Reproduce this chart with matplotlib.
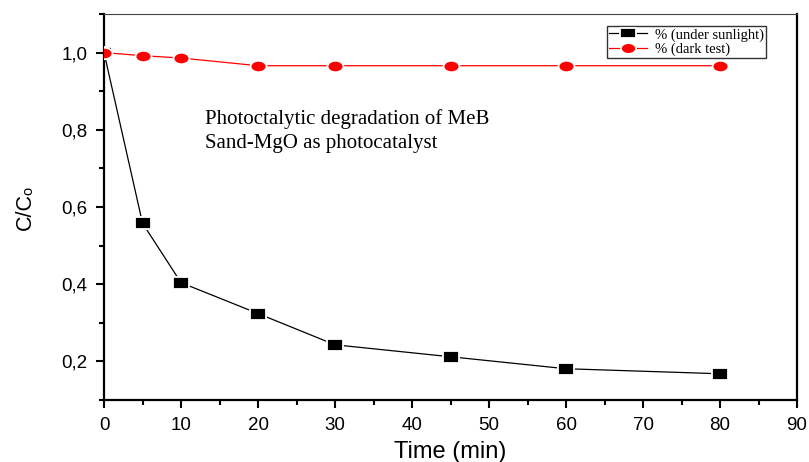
import numpy as np
import matplotlib
matplotlib.use("Agg")
import matplotlib.pyplot as plt
from matplotlib.path import Path
from matplotlib.ticker import MultipleLocator, FuncFormatter

# Photodegradation kinetics of methylene blue (MeB)
time_min = [0, 5, 10, 20, 30, 45, 60, 80]
sunlight = [1.0, 0.558, 0.404, 0.324, 0.243, 0.212, 0.181, 0.168]
dark = [1.0, 0.992, 0.986, 0.966, 0.966, 0.966, 0.966, 0.966]

label_sun = "% (under sunlight)"
label_dark = "% (dark test)"
note_lines = ["Photoctalytic degradation of MeB", "Sand-MgO as photocatalyst"]

plt.rcParams["font.family"] = ["Liberation Sans", "DejaVu Sans"]

# wide markers (rectangle and ellipse)
rect = Path([(-1.4, -1), (1.4, -1), (1.4, 1), (-1.4, 1), (-1.4, -1)],
            [Path.MOVETO, Path.LINETO, Path.LINETO, Path.LINETO, Path.CLOSEPOLY])
circ = Path.unit_circle()
ellipse = Path(circ.vertices * np.array([1.4, 1.0]), circ.codes)

fig = plt.figure(figsize=(8.09, 4.62), dpi=100)
ax = fig.add_axes([0.1286, 0.1342, 0.8566, 0.8355])

ax.plot(time_min, sunlight, color="black", lw=0.9, marker=rect, ms=11.5,
        mfc="black", mec="white", mew=1.3, label=label_sun, zorder=3)
ax.plot(time_min, dark, color="red", lw=0.9, marker=ellipse, ms=11.5,
        mfc="red", mec="white", mew=1.3, label=label_dark, zorder=4)

ax.set_xlim(0, 90)
ax.set_ylim(0.1, 1.1)
ax.xaxis.set_major_locator(MultipleLocator(10))
ax.xaxis.set_minor_locator(MultipleLocator(5))
ax.yaxis.set_major_locator(MultipleLocator(0.2))
ax.yaxis.set_minor_locator(MultipleLocator(0.1))
ax.yaxis.set_major_formatter(FuncFormatter(lambda v, p: f"{v:.1f}".replace(".", ",")))

ax.tick_params(axis="both", which="major", direction="out", length=6, width=1.5,
               labelsize=13.5)
ax.tick_params(axis="x", which="major", pad=6)
ax.tick_params(axis="y", which="major", pad=6)
ax.tick_params(axis="both", which="minor", direction="out", length=3.5, width=1.5)
ax.tick_params(top=False, right=False, which="both")

for side in ("left", "bottom", "right"):
    ax.spines[side].set_linewidth(1.6)
ax.spines["top"].set_linewidth(0.8)
ax.spines["top"].set_color("#444444")

ax.set_xlabel("Time (min)", fontsize=17, labelpad=5)
ax.set_ylabel("C/C\u2092", fontsize=15.5, labelpad=18)

for i, line in enumerate(note_lines):
    ax.text(13.1, 0.829 - i * 0.065, line, family="Liberation Serif", fontsize=15,
            va="center", ha="left")

leg = ax.legend(loc="upper right", bbox_to_anchor=(0.955, 0.969), borderaxespad=0,
                prop={"family": "Liberation Serif", "size": 10.5}, frameon=True,
                fancybox=False, edgecolor="black", handlelength=2.6,
                borderpad=0.15, labelspacing=0.05, handletextpad=0.5, markerscale=0.95)
leg.get_frame().set_linewidth(1.0)

fig.savefig("out.png", dpi=100)
